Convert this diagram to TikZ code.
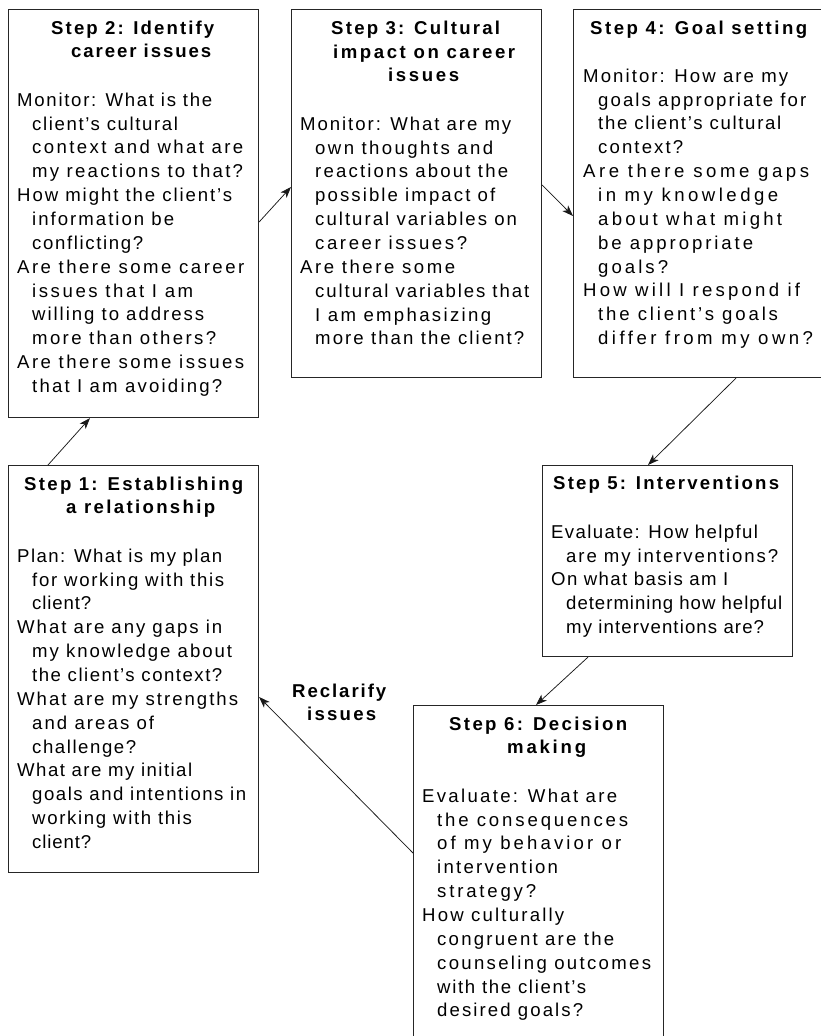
\documentclass[tikz,border=0pt]{standalone}
\usepackage{fontspec}
\setmainfont{Liberation Sans}
\usetikzlibrary{arrows.meta,calc}
\ExplSyntaxOn
\box_new:N \l__fit_a_box
\box_new:N \l__fit_b_box
\fp_new:N \l__fit_x_fp
\NewDocumentCommand \fitln { m m }
  {
    \hbox_set:Nn \l__fit_a_box { #2 }
    \hbox_set:Nn \l__fit_b_box { \addfontfeature { LetterSpace = 10 } #2 }
    \fp_set:Nn \l__fit_x_fp
      { 10 * ( #1 - \dim_to_fp:n { \box_wd:N \l__fit_a_box } )
        / ( \dim_to_fp:n { \box_wd:N \l__fit_b_box } - \dim_to_fp:n { \box_wd:N \l__fit_a_box } ) }
    \hbox:n { \addfontfeature { LetterSpace = \fp_eval:n { round ( \l__fit_x_fp , 1 ) } } #2 }
  }
\ExplSyntaxOff
\newcommand\Lf[2]{\fitln{#1}{#2}}
\newcommand\Li[2]{\hspace*{15pt}\fitln{#1}{#2}}
\newcommand\fszb{\fontsize{18.6}{23.85}\selectfont}
\newcommand\fszt{\fontsize{18.6}{23.3}\selectfont}
\newcommand\lead{\rule{0pt}{14pt}}
\begin{document}
\begin{tikzpicture}[x=1pt,y=-1pt,
  box/.style={draw=black!85, line width=1.1pt, inner sep=0pt, anchor=north west},
  ttl/.style={inner sep=0pt, anchor=north west, align=left, font=\bfseries\fszt},
  bdy/.style={inner sep=0pt, anchor=north west, align=left, font=\fszb},
  arr/.style={-{Stealth[length=11pt,width=8pt,inset=3pt]}, line width=0.75pt, draw=black!90}]
\useasboundingbox (0,0) rectangle (820,1036);

% boxes
\node[box, minimum width=250pt, minimum height=408pt] (s2) at (8,9) {};
\node[box, minimum width=250pt, minimum height=368pt] (s3) at (291,9) {};
\node[box, minimum width=250pt, minimum height=368pt] (s4) at (573,9) {};
\node[box, minimum width=250pt, minimum height=407pt] (s1) at (8,465) {};
\node[box, minimum width=250pt, minimum height=191pt] (s5) at (542,465) {};
\node[box, minimum width=250pt, minimum height=345pt] (s6) at (413,705) {};

% step 2
\node[ttl] (t2) at (51,20) {\lead\Lf{163}{Step 2: Identify}\\
\hspace*{20pt}\Lf{140}{career issues}};
\node[bdy] (b2) at (17,92) {\lead\Lf{195}{Monitor: What is the}\\
\Li{146}{client’s cultural}\\
\Li{211}{context and what are}\\
\Li{211}{my reactions to that?}\\
\Lf{215}{How might the client’s}\\
\Li{142}{information be}\\
\Li{111}{conflicting?}\\
\Lf{227}{Are there some career}\\
\Li{161}{issues that I am}\\
\Li{172}{willing to address}\\
\Li{184}{more than others?}\\
\Lf{227}{Are there some issues}\\
\Li{190}{that I am avoiding?}};

% step 3
\node[ttl] (t3) at (331,20.5) {\lead\Lf{169}{Step 3: Cultural}\\
\hspace*{2pt}\Lf{182}{impact on career}\\
\hspace*{57pt}\Lf{71}{issues}};
\node[bdy] (b3) at (300,116) {\lead\Lf{211}{Monitor: What are my}\\
\Li{178}{own thoughts and}\\
\Li{193}{reactions about the}\\
\Li{180}{possible impact of}\\
\Li{202}{cultural variables on}\\
\Li{152}{career issues?}\\
\Lf{155}{Are there some}\\
\Li{214}{cultural variables that}\\
\Li{176}{I am emphasizing}\\
\Li{209}{more than the client?}};

% step 4
\node[ttl] (t4) at (590,20) {\lead\Lf{217}{Step 4: Goal setting}};
\node[bdy] (b4) at (583,68) {\lead\Lf{205}{Monitor: How are my}\\
\Li{208}{goals appropriate for}\\
\Li{183}{the client’s cultural}\\
\Li{85}{context?}\\
\Lf{226}{Are there some gaps}\\
\Li{180}{in my knowledge}\\
\Li{184}{about what might}\\
\Li{155}{be appropriate}\\
\Li{70}{goals?}\\
\Lf{217}{How will I respond if}\\
\Li{180}{the client’s goals}\\
\Li{215}{differ from my own?}};

% step 1
\node[ttl] (t1) at (24,476) {\lead\Lf{219}{Step 1: Establishing}\\
\hspace*{42pt}\Lf{149}{a relationship}};
\node[bdy] (b1) at (17,548) {\lead\Lf{205}{Plan: What is my plan}\\
\Li{192}{for working with this}\\
\Li{59}{client?}\\
\Lf{205}{What are any gaps in}\\
\Li{200}{my knowledge about}\\
\Li{190}{the client’s context?}\\
\Lf{221}{What are my strengths}\\
\Li{122}{and areas of}\\
\Li{104}{challenge?}\\
\Lf{175}{What are my initial}\\
\Li{214}{goals and intentions in}\\
\Li{160}{working with this}\\
\Li{59}{client?}};

% step 5
\node[ttl] (t5) at (553,475) {\lead\Lf{226}{Step 5: Interventions}};
\node[bdy] (b5) at (551,524) {\lead\Lf{207}{Evaluate: How helpful}\\
\Li{212}{are my interventions?}\\
\Lf{177}{On what basis am I}\\
\Li{216}{determining how helpful}\\
\Li{198}{my interventions are?}};

% step 6
\node[ttl] (t6) at (449,716) {\lead\Lf{178}{Step 6: Decision}\\
\hspace*{58pt}\Lf{79}{making}};
\node[bdy] (b6) at (422,788) {\lead\Lf{195}{Evaluate: What are}\\
\Li{191}{the consequences}\\
\Li{184}{of my behavior or}\\
\Li{121}{intervention}\\
\Li{99}{strategy?}\\
\Lf{142}{How culturally}\\
\Li{177}{congruent are the}\\
\Li{214}{counseling outcomes}\\
\Li{149}{with the client’s}\\
\Li{146}{desired goals?}};

% label
\node[ttl] (rl) at (292,683) {\lead\Lf{94}{Reclarify}\\
\hspace*{15pt}\Lf{69}{issues}};

% connectors
\draw[arr] ($(s1.north west)+(40,0)$) -- ($(s2.south west)+(82,0)$);
\draw[arr] ($(s2.north east)+(0,213)$) -- ($(s3.north west)+(0,178)$);
\draw[arr] ($(s3.north east)+(0,176)$) -- ($(s4.north west)+(0,207)$);
\draw[arr] ($(s4.south west)+(163,0)$) -- ($(s5.north west)+(106,0)$);
\draw[arr] ($(s5.south west)+(46,0)$) -- ($(s6.north west)+(123,0)$);
\draw[arr] ($(s6.north west)+(0,148)$) -- ($(s1.north east)+(0,232)$);
\end{tikzpicture}
\end{document}
